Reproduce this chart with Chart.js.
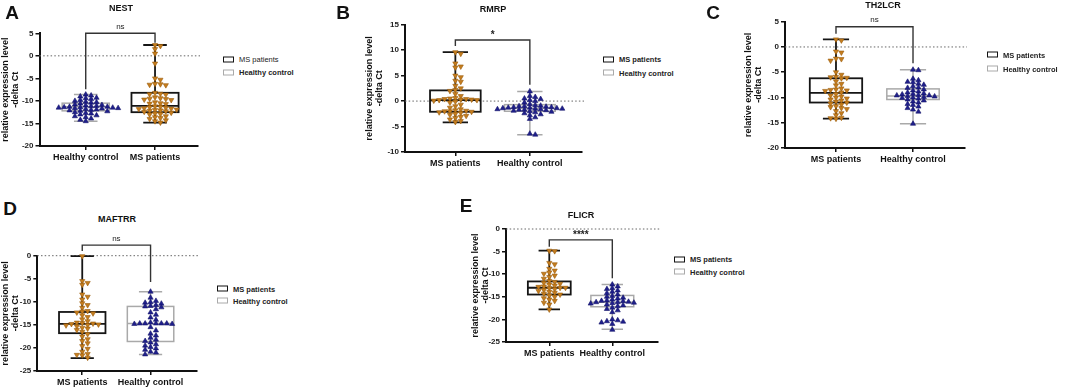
<!DOCTYPE html>
<html>
<head>
<meta charset="utf-8">
<script src="https://cdn.jsdelivr.net/npm/chart.js@4.4.1/dist/chart.umd.min.js"></script>
<style>
  body { margin: 0; background: #fff; width: 1065px; height: 387px; position: relative; overflow: hidden;
         font-family: "Liberation Sans", Arial, sans-serif; color: #111; }
  canvas { position: absolute; }
  .letter { position: absolute; font-size: 19px; font-weight: bold; line-height: 1; transform: translate(-50%, -50%); }
  .title { position: absolute; font-size: 9px; font-weight: bold; white-space: nowrap; transform: translate(-50%, -50%); }
  .leg { position: absolute; font-size: 7.5px; font-weight: bold; white-space: nowrap; display: flex; align-items: center; transform: translateY(-50%); color: #222; }
  .leg.thin { font-weight: normal; }
  .sw { width: 9px; height: 4px; margin-right: 5px; background: #fff; }
</style>
</head>
<body>
<script>
// ---- data ----
const catsNest = ["Healthy control", "MS patients"];
const catsOther = ["MS patients", "Healthy control"];

// NEST
const nestHC = [-8.6, -8.8, -9.0, -9.3, -9.4, -9.6, -9.8, -10.0, -10.2, -10.3, -10.4, -10.6, -10.8, -10.9, -11.0, -11.1,
  -11.2, -11.3, -11.3, -11.4, -11.4, -11.5, -11.5, -11.6, -11.6, -11.7, -11.8, -11.9, -12.0, -12.1, -12.2, -12.3,
  -12.5, -12.7, -12.8, -13.0, -13.2, -13.4, -13.6, -13.9, -14.2, -14.5];
const nestMS = [2.4, 2.2, 1.5, 0.5, -1.7, -5.0, -5.3, -6.2, -6.4, -6.5, -6.3, -8.2, -8.4, -8.5, -8.6, -9.2, -9.4, -9.5,
  -9.6, -9.7, -9.8, -10.3, -10.5, -10.6, -10.7, -11.2, -11.3, -11.4, -11.5, -11.6, -11.7, -11.8, -11.9, -12.0, -12.1,
  -12.2, -12.3, -12.4, -12.6, -12.8, -12.9, -13.0, -13.4, -13.6, -13.8, -14.0, -14.3, -14.5, -14.8];
const nestBoxHC = [-14.5, -12.2, -11.3, -10.5, -8.6];   // min, q1, median, q3, max
const nestBoxMS = [-14.8, -12.5, -11.1, -8.2, 2.4];
const nestBracket = [5.0, -7.4, 2.9];                   // level, left end, right end
const nestSig = "ns";

// RMRP
const rmrpMS = [9.6, 9.3, 7.4, 6.8, 6.6, 5.0, 4.7, 4.0, 3.8, 3.0, 2.5, 2.2, 2.0, 1.4, 1.0, 0.6, 0.5, 0.4, 0.4, 0.3, 0.3,
  0.2, 0.2, 0.1, -0.1, -0.3, -0.7, -1.0, -1.3, -1.6, -1.8, -1.9, -2.0, -2.0, -2.1, -2.2, -2.3, -2.5, -2.7, -2.9, -3.1,
  -3.3, -3.6, -3.9, -4.1];
const rmrpHC = [1.9, 1.0, 0.8, 0.5, 0.4, 0.2, 0.0, -0.3, -0.6, -0.8, -0.9, -1.0, -1.0, -1.1, -1.2, -1.2, -1.3, -1.3,
  -1.4, -1.4, -1.5, -1.5, -1.6, -1.6, -1.7, -1.7, -1.8, -1.9, -2.0, -2.1, -2.2, -2.4, -2.6, -2.8, -3.2, -3.5, -6.4, -6.6];
const rmrpBoxMS = [-4.2, -2.1, 0.2, 2.1, 9.6];
const rmrpBoxHC = [-6.6, -2.0, -1.4, -0.7, 1.9];
const rmrpBracket = [12.0, 10.8, 3.2];
const rmrpSig = "*";

// TH2LCR
const th2lcrMS = [1.5, 1.3, -0.9, -1.1, -2.3, -2.4, -2.7, -5.0, -5.5, -5.9, -6.0, -6.1, -6.2, -6.8, -7.3, -7.6, -8.2,
  -8.4, -8.5, -8.6, -8.7, -9.0, -9.3, -9.6, -9.8, -10.0, -10.2, -10.4, -10.6, -10.8, -11.0, -11.2, -11.4, -11.7, -11.9,
  -12.1, -12.3, -12.7, -13.1, -13.5, -14.0, -14.1, -14.2];
const th2lcrHC = [-4.5, -4.6, -6.3, -6.6, -6.9, -7.0, -7.3, -7.5, -7.8, -8.0, -8.1, -8.4, -8.6, -8.8, -9.0, -9.2,
  -9.3, -9.4, -9.5, -9.6, -9.6, -9.7, -9.8, -9.9, -10.0, -10.1, -10.2, -10.4, -10.6, -10.8, -11.0, -11.3, -11.5,
  -11.8, -12.1, -12.4, -12.8, -15.2];
const th2lcrBoxMS = [-14.2, -11.0, -9.1, -6.2, 1.5];
const th2lcrBoxHC = [-15.2, -10.4, -9.7, -8.3, -4.5];
const th2lcrBracket = [4.0, 2.6, -3.2];
const th2lcrSig = "ns";

// MAFTRR
const maftrrMS = [-0.1, -5.5, -5.9, -6.3, -8.4, -8.9, -9.5, -10.3, -10.7, -11.3, -12.0, -12.1, -12.3, -12.5, -12.9,
  -13.3, -13.8, -14.2, -14.5, -14.6, -14.7, -14.8, -14.9, -15.0, -15.1, -15.3, -15.6, -15.8, -16.1, -16.5, -17.0,
  -17.5, -18.1, -18.5, -19.0, -19.6, -20.2, -20.8, -21.3, -21.5, -21.6, -22.1];
const maftrrHC = [-7.8, -9.1, -9.8, -10.1, -10.2, -10.4, -10.7, -10.9, -11.0, -11.2, -11.6, -12.3, -12.8, -13.4,
  -13.9, -14.5, -14.7, -14.7, -14.7, -14.7, -14.7, -14.8, -14.8, -15.5, -16.2, -16.9, -17.3, -17.8, -18.2, -18.5,
  -18.8, -19.2, -19.5, -19.8, -20.1, -20.4, -20.8, -21.0, -21.4];
const maftrrBoxMS = [-22.2, -16.8, -14.8, -12.2, -0.1];
const maftrrBoxHC = [-21.4, -18.6, -14.7, -11.0, -7.8];
const maftrrBracket = [2.3, 1.0, -5.7];
const maftrrSig = "ns";

// FLICR
const flicrMS = [-4.8, -4.9, -7.5, -7.8, -8.8, -9.2, -9.6, -9.9, -10.3, -10.6, -11.0, -11.5, -11.7, -11.9, -12.1,
  -12.3, -12.5, -12.7, -12.8, -13.0, -13.0, -13.1, -13.3, -13.5, -13.7, -13.9, -14.1, -14.3, -14.5, -14.7, -15.0,
  -15.3, -15.6, -15.9, -16.3, -16.7, -17.8];
const flicrHC = [-12.3, -12.7, -13.1, -13.3, -13.6, -13.9, -14.2, -14.5, -14.8, -15.0, -15.2, -15.4, -15.6, -15.8,
  -15.9, -16.0, -16.1, -16.2, -16.2, -16.3, -16.4, -16.5, -16.7, -16.9, -17.1, -17.4, -17.7, -18.0, -18.4, -20.0,
  -20.2, -20.4, -20.5, -20.7, -21.0, -22.3];
const flicrBoxMS = [-17.8, -14.5, -13.0, -11.6, -4.8];
const flicrBoxHC = [-22.2, -17.2, -16.2, -14.7, -12.3];
const flicrBracket = [-2.4, -3.9, -10.9];
const flicrSig = "****";

const yTitle = ["relative expression level", "-delta Ct"];
const legendLabels = ["MS patients", "Healthy control"];

// ---- layout of each panel (page pixels) ----
const FONT = "'Liberation Sans', Arial, sans-serif";
const MS_COLOR = "#c57d1e", MS_EDGE = "#9a5c0c";
const HC_COLOR = "#1f1f8c", HC_EDGE = "#14146a";

const panels = [
  { letter: "A", lx: 12, ly: 12, title: "NEST", tx: 121, ty: 8, cats: catsNest, msX: 2, hcX: 1,
    ms: nestMS, hc: nestHC, boxMS: nestBoxMS, boxHC: nestBoxHC, bracket: nestBracket, sig: nestSig,
    area: { l: 39.5, t: 33.3, r: 198, b: 146 }, yMin: -20, yMax: 5, xMin: 0.333, xMax: 2.62, yW: 38.5,
    legX: 223, legY: [59, 72], legThin: true },
  { letter: "B", lx: 343, ly: 12, title: "RMRP", tx: 493, ty: 8.5, cats: catsOther, msX: 1, hcX: 2,
    ms: rmrpMS, hc: rmrpHC, boxMS: rmrpBoxMS, boxHC: rmrpBoxHC, bracket: rmrpBracket, sig: rmrpSig,
    area: { l: 405, t: 24.7, r: 582, b: 152 }, yMin: -10, yMax: 15, xMin: 0.324, xMax: 2.70, yW: 40.5,
    legX: 603, legY: [59, 72.5] },
  { letter: "C", lx: 713, ly: 12, title: "TH2LCR", tx: 883, ty: 5, cats: catsOther, msX: 1, hcX: 2,
    ms: th2lcrMS, hc: th2lcrHC, boxMS: th2lcrBoxMS, boxHC: th2lcrBoxHC, bracket: th2lcrBracket, sig: th2lcrSig,
    area: { l: 785, t: 21.7, r: 965, b: 148.3 }, yMin: -20, yMax: 5, xMin: 0.338, xMax: 2.675, yW: 41,
    legX: 987, legY: [54.5, 68.5] },
  { letter: "D", lx: 10, ly: 208, title: "MAFTRR", tx: 117, ty: 219, cats: catsOther, msX: 1, hcX: 2,
    ms: maftrrMS, hc: maftrrHC, boxMS: maftrrBoxMS, boxHC: maftrrBoxHC, bracket: maftrrBracket, sig: maftrrSig,
    area: { l: 37.3, t: 255.7, r: 197, b: 371 }, yMin: -25, yMax: 0, xMin: 0.342, xMax: 2.68, yW: 36.5,
    legX: 217, legY: [288.5, 300.5] },
  { letter: "E", lx: 466, ly: 205, title: "FLICR", tx: 581, ty: 214.5, cats: catsOther, msX: 1, hcX: 2,
    ms: flicrMS, hc: flicrHC, boxMS: flicrBoxMS, boxHC: flicrBoxHC, bracket: flicrBracket, sig: flicrSig,
    area: { l: 506, t: 229, r: 658, b: 342 }, yMin: -25, yMax: 0, xMin: 0.313, xMax: 2.725, yW: 35.5,
    legX: 674, legY: [259, 271.5] },
];

// spread points sideways so they don't sit on top of each other (pixel space)
function swarm(values, cx, xppu, yppu) {
  const placed = [];
  const sorted = values.slice().sort((a, b) => b - a);
  return sorted.map(v => {
    const py = v * yppu;
    for (let k = 0; k < 80; k++) {
      const off = (k % 2 ? 1 : -1) * Math.ceil(k / 2) * 5.4;
      const hit = placed.some(p => Math.abs(p.py - py) < 3.4 && Math.abs(p.px - off) < 5.0);
      if (!hit) {
        placed.push({ px: off, py });
        return { x: cx + off / xppu, y: v };
      }
    }
    return { x: cx, y: v };
  });
}

function addDiv(cls, text, x, y) {
  const d = document.createElement("div");
  d.className = cls;
  d.textContent = text;
  d.style.left = x + "px";
  d.style.top = y + "px";
  document.body.appendChild(d);
  return d;
}

function makeBoxPlugin(p) {
  return {
    id: "boxes",
    beforeDatasetsDraw(chart) {
      const { ctx, chartArea, scales: { x, y } } = chart;
      ctx.save();
      // dotted zero line
      const y0 = y.getPixelForValue(0);
      ctx.setLineDash([1.5, 2.2]);
      ctx.strokeStyle = "#666";
      ctx.lineWidth = 1;
      ctx.beginPath();
      ctx.moveTo(chartArea.left, y0);
      ctx.lineTo(chartArea.right + 2, y0);
      ctx.stroke();
      ctx.setLineDash([]);

      const drawBox = (stats, cx, color, lw) => {
        const [mn, q1, med, q3, mx] = stats;
        const xl = x.getPixelForValue(cx - 0.34), xr = x.getPixelForValue(cx + 0.34);
        const cl = x.getPixelForValue(cx - 0.17), cr = x.getPixelForValue(cx + 0.17);
        const xc = x.getPixelForValue(cx);
        const py = v => y.getPixelForValue(v);
        ctx.strokeStyle = color;
        ctx.lineWidth = lw;
        ctx.strokeRect(xl, py(q3), xr - xl, py(q1) - py(q3));
        ctx.beginPath();
        ctx.moveTo(xl, py(med)); ctx.lineTo(xr, py(med));
        ctx.moveTo(xc, py(q3)); ctx.lineTo(xc, py(mx));
        ctx.moveTo(xc, py(q1)); ctx.lineTo(xc, py(mn));
        ctx.moveTo(cl, py(mx)); ctx.lineTo(cr, py(mx));
        ctx.moveTo(cl, py(mn)); ctx.lineTo(cr, py(mn));
        ctx.stroke();
      };
      drawBox(p.boxHC, p.hcX, "#a9a9a9", 1.5);
      drawBox(p.boxMS, p.msX, "#151515", 1.8);

      // significance bracket
      const [lev, e1, e2] = p.bracket;
      const x1 = x.getPixelForValue(1), x2 = x.getPixelForValue(2);
      const yb = y.getPixelForValue(lev);
      ctx.strokeStyle = "#333";
      ctx.lineWidth = 1.4;
      ctx.beginPath();
      ctx.moveTo(x1, y.getPixelForValue(e1));
      ctx.lineTo(x1, yb);
      ctx.lineTo(x2, yb);
      ctx.lineTo(x2, y.getPixelForValue(e2));
      ctx.stroke();
      ctx.fillStyle = "#222";
      ctx.textAlign = "center";
      ctx.textBaseline = "middle";
      if (p.sig === "ns") {
        ctx.font = "8px " + FONT;
        ctx.fillText(p.sig, (x1 + x2) / 2, yb - 6.5);
      } else {
        ctx.font = "bold 10px " + FONT;
        ctx.fillText(p.sig, (x1 + x2) / 2, yb - 4.5);
      }
      ctx.restore();
    }
  };
}

panels.forEach(p => {
  const left = Math.round(p.area.l - p.yW);
  const top = Math.round(p.area.t - 26);
  const yW = p.area.l - left;
  const padTop = p.area.t - top;
  const xH = 24;
  const w = Math.round(p.area.r + 6 - left);
  const h = Math.round(p.area.b + xH - top);

  const cv = document.createElement("canvas");
  cv.width = w; cv.height = h;
  cv.style.left = left + "px"; cv.style.top = top + "px";
  cv.style.width = w + "px"; cv.style.height = h + "px";
  document.body.appendChild(cv);

  const plotW = p.area.r - p.area.l, plotH = p.area.b - p.area.t;
  const xppu = plotW / (p.xMax - p.xMin);
  const yppu = plotH / (p.yMax - p.yMin);

  new Chart(cv.getContext("2d"), {
    type: "scatter",
    data: {
      datasets: [
        {
          data: swarm(p.hc, p.hcX, xppu, yppu),
          pointStyle: "triangle", pointRadius: 3.0, pointRotation: 0,
          backgroundColor: HC_COLOR, borderColor: HC_EDGE, borderWidth: 0.6, clip: false
        },
        {
          data: swarm(p.ms, p.msX, xppu, yppu),
          pointStyle: "triangle", pointRadius: 3.0, pointRotation: 180,
          backgroundColor: MS_COLOR, borderColor: MS_EDGE, borderWidth: 0.6, clip: false
        }
      ]
    },
    options: {
      responsive: false,
      animation: false,
      devicePixelRatio: 1,
      layout: { padding: { top: padTop, right: 6, left: 0, bottom: 0 } },
      plugins: { legend: { display: false }, tooltip: { enabled: false } },
      scales: {
        x: {
          type: "linear", min: p.xMin, max: p.xMax,
          afterBuildTicks: s => { s.ticks = [{ value: 1 }, { value: 2 }]; },
          afterFit: s => { s.height = xH; },
          ticks: {
            callback: v => p.cats[v - 1],
            font: { family: FONT, size: 9, weight: "bold" }, color: "#111", padding: 2, maxRotation: 0
          },
          grid: { drawOnChartArea: false, drawTicks: true, tickLength: 4, color: "#111", lineWidth: 1.5 },
          border: { color: "#111", width: 2 }
        },
        y: {
          min: p.yMin, max: p.yMax,
          afterFit: s => { s.width = yW; },
          ticks: { stepSize: 5, font: { family: FONT, size: 8, weight: "bold" }, color: "#222", padding: 2 },
          grid: { drawOnChartArea: false, drawTicks: true, tickLength: 4, color: "#111", lineWidth: 1.5 },
          border: { color: "#111", width: 2 },
          title: {
            display: true, text: yTitle, color: "#111",
            font: { family: FONT, size: 9, weight: "bold", lineHeight: 1.05 }, padding: { top: 0, bottom: 0 }
          }
        }
      }
    },
    plugins: [makeBoxPlugin(p)]
  });

  addDiv("letter", p.letter, p.lx, p.ly);
  addDiv("title", p.title, p.tx, p.ty);
  legendLabels.forEach((lab, i) => {
    const d = document.createElement("div");
    d.className = "leg" + (p.legThin && i === 0 ? " thin" : "");
    d.style.left = p.legX + "px";
    d.style.top = p.legY[i] + "px";
    const sw = document.createElement("span");
    sw.className = "sw";
    sw.style.border = i === 0 ? "1.8px solid #111" : "1.3px solid #aaa";
    d.appendChild(sw);
    d.appendChild(document.createTextNode(lab));
    document.body.appendChild(d);
  });
});
</script>
</body>
</html>
